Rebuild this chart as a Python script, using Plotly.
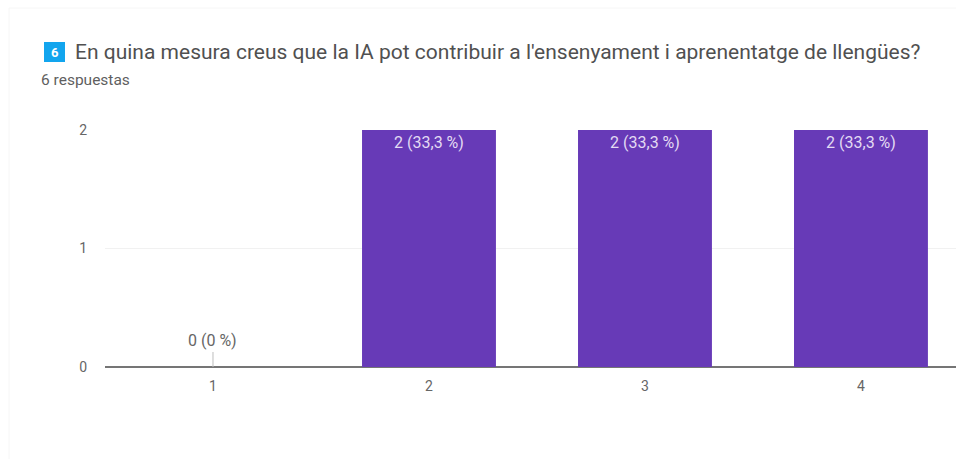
import plotly.graph_objects as go

categories = ["1", "2", "3", "4"]
values = [0, 2, 2, 2]
labels = ["0 (0 %)", "2 (33,3 %)", "2 (33,3 %)", "2 (33,3 %)"]
y_ticks = [0, 1, 2]
title_text = "En quina mesura creus que la IA pot contribuir a l'ensenyament i aprenentatge de llengües?"
subtitle_text = "6 respuestas"
badge_text = "6"

W, H = 956, 459
L, R, T, B = 105, 0, 130, 92
FONT = "Roboto, Arial, sans-serif"
px = lambda x: (x - L) / (W - L - R)
py = lambda y: 1 - (y - T) / (H - T - B)

x_pos = [int(c) for c in categories]
bar_text = [t if v > 0 else "" for v, t in zip(values, labels)]

fig = go.Figure(go.Bar(
    x=x_pos, y=values, width=0.62,
    marker=dict(color="#673ab7", line=dict(width=0)),
    text=bar_text, textposition="inside", insidetextanchor="end",
    textangle=0, constraintext="none",
    textfont=dict(family=FONT, size=16, color="#e3dbf3"),
    hoverinfo="skip",
))

fig.update_layout(
    width=W, height=H, autosize=False,
    margin=dict(l=L, r=R, t=T, b=B, autoexpand=False),
    paper_bgcolor="white", plot_bgcolor="white",
    showlegend=False,
    font=dict(family=FONT, size=14, color="#5f5f5f"),
    xaxis=dict(
        range=[0.5, 4.44], tickvals=x_pos, ticktext=categories,
        showgrid=False, zeroline=False, showline=False,
        ticks="outside", ticklen=6, tickcolor="rgba(0,0,0,0)",
        tickfont=dict(size=14, color="#666666"),
    ),
    yaxis=dict(
        range=[0, 2], tickvals=y_ticks, showgrid=True, gridcolor="#f1f1f1", gridwidth=1,
        zeroline=True, zerolinecolor="#757575", zerolinewidth=2, showline=False,
        ticks="outside", ticklen=14, tickcolor="rgba(0,0,0,0)",
        tickfont=dict(size=14, color="#666666"),
    ),
    shapes=[
        dict(type="line", xref="paper", yref="paper", x0=px(9), x1=px(9), y0=py(8), y1=py(459),
             line=dict(color="#f6f6f6", width=1), layer="below"),
        dict(type="line", xref="paper", yref="paper", x0=px(9), x1=1, y0=py(8), y1=py(8),
             line=dict(color="#f6f6f6", width=1), layer="below"),
        dict(type="rect", xref="paper", yref="paper", x0=px(44), x1=px(65), y0=py(62), y1=py(42),
             fillcolor="#12a5ee", line=dict(width=0), layer="below"),
    ],
    annotations=[
        dict(text=badge_text, xref="paper", yref="paper", x=px(54.5), y=py(52), showarrow=False,
             xanchor="center", yanchor="middle", font=dict(size=13, color="#ffffff", family=FONT, weight="bold")),
        dict(text=title_text, xref="paper", yref="paper", x=px(72.5), y=py(52), showarrow=False,
             xanchor="left", yanchor="middle", font=dict(size=21, color="#505050", family=FONT)),
        dict(text=subtitle_text, xref="paper", yref="paper", x=px(38.5), y=py(80), showarrow=False,
             xanchor="left", yanchor="middle", font=dict(size=15.5, color="#5f5f5f", family=FONT)),
        dict(text=labels[0], xref="x", yref="y", x=x_pos[0], y=values[0], showarrow=True,
             ax=0, ay=-15, arrowhead=0, arrowwidth=1, arrowcolor="#bdbdbd", standoff=0, yanchor="bottom",
             font=dict(size=16, color="#666666", family=FONT)),
    ],
)

fig.write_html("out.html", config={"displayModeBar": False}, post_script="document.body.style.margin='0';")
